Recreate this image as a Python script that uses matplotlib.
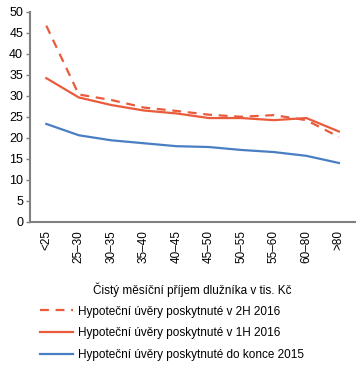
import matplotlib
matplotlib.use("Agg")
import matplotlib.pyplot as plt

plt.rcParams["font.family"] = ["Liberation Sans", "DejaVu Sans"]

categories = ["<25", "25–30", "30–35", "35–40", "40–45", "45–50",
              "50–55", "55–60", "60–80", ">80"]
h2_2016 = [46.7, 30.3, 29.0, 27.2, 26.4, 25.5, 25.0, 25.4, 24.2, 20.2]
h1_2016 = [34.2, 29.6, 27.8, 26.5, 25.8, 24.7, 24.7, 24.2, 24.7, 21.5]
do_2015 = [23.3, 20.6, 19.4, 18.7, 18.0, 17.8, 17.1, 16.6, 15.7, 14.0]

RED = "#EA5B3C"
BLUE = "#4A7EC2"
GRAY = "#808080"

fig = plt.figure(figsize=(3.62, 3.69), dpi=100)
ax = fig.add_axes([0.083, 0.399, 0.898, 0.569])

x = range(len(categories))
l1, = ax.plot(x, h2_2016, color=RED, lw=1.6, dashes=(4, 3),
              label="Hypoteční úvěry poskytnuté v 2H 2016")
l2, = ax.plot(x, h1_2016, color=RED, lw=1.6,
              label="Hypoteční úvěry poskytnuté v 1H 2016")
l3, = ax.plot(x, do_2015, color=BLUE, lw=1.6,
              label="Hypoteční úvěry poskytnuté do konce 2015")

ax.set_xlim(-0.5, len(categories) - 0.5)
ax.set_ylim(0, 50)
ax.set_yticks(range(0, 51, 5))
ax.set_xticks(list(x))
ax.set_xticklabels(categories, rotation=90, fontsize=8.5)
ax.tick_params(axis="y", labelsize=9, length=3, width=1, color=GRAY, pad=2)
ax.tick_params(axis="x", length=0, pad=6)

for s in ["top", "right"]:
    ax.spines[s].set_visible(False)
for s in ["left", "bottom"]:
    ax.spines[s].set_color(GRAY)
    ax.spines[s].set_linewidth(1.5)

ax.set_xlabel("Čistý měsíční příjem dlužníka v tis. Kč", fontsize=8.5, labelpad=14)

fig.legend(handles=[l1, l2, l3], loc="upper left",
           bbox_to_anchor=(0.11, 0.172), frameon=False, fontsize=8.5,
           handlelength=2.8, handletextpad=0.4, labelspacing=0.84,
           borderaxespad=0, borderpad=0)

fig.savefig("out.png", dpi=100)
